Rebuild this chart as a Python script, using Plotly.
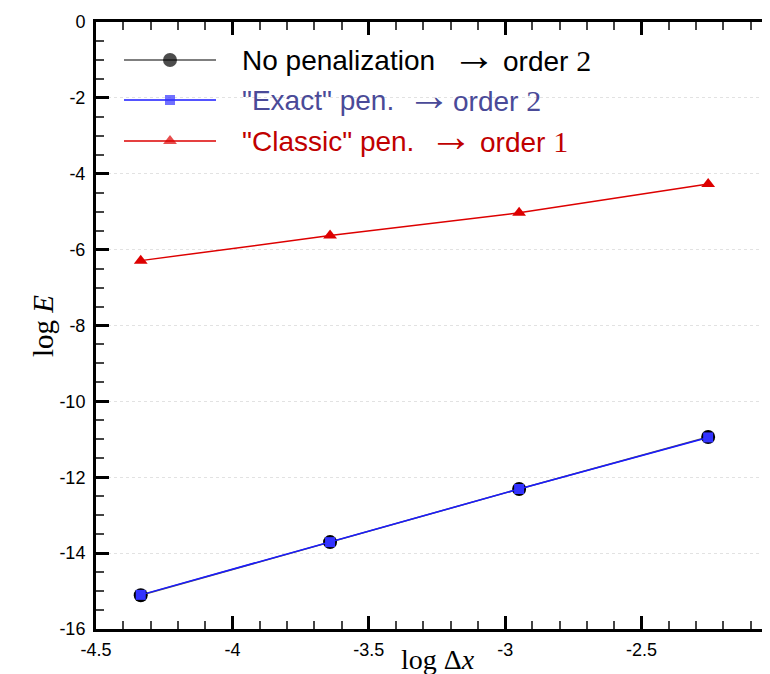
import plotly.graph_objects as go

# ---- data ----
log_dx = [-4.336, -3.642, -2.949, -2.256]
no_pen = [-15.11, -13.71, -12.31, -10.94]
exact_pen = [-15.10, -13.71, -12.31, -10.95]
classic_pen = [-6.29, -5.63, -5.03, -4.27]

x_tickvals = [-4.5, -4.0, -3.5, -3.0, -2.5]
x_ticktext = ["-4.5", "-4", "-3.5", "-3", "-2.5"]
y_tickvals = [0, -2, -4, -6, -8, -10, -12, -14, -16]
y_ticktext = ["0", "-2", "-4", "-6", "-8", "-10", "-12", "-14", "-16"]

legend_names = ["No penalization", '"Exact" pen.', '"Classic" pen.']
legend_orders = ["2", "2", "1"]
legend_text_colors = ["#000000", "#4a4a98", "#c00000"]

BLACK_LINE = "#555555"
BLUE = "#1a1aff"
RED = "#dd0000"

W, H = 770, 674
ML, MR, MT, MB = 88, 0, 14, 53
PW, PH = W - ML - MR, H - MT - MB


def px(xp):
    return (xp - ML) / PW


def py(yp):
    return (H - MB - yp) / PH


fig = go.Figure()

fig.add_trace(go.Scatter(
    x=log_dx, y=no_pen, mode="lines+markers",
    line=dict(color=BLACK_LINE, width=1.5),
    marker=dict(symbol="circle", size=14, color="#000000"),
    showlegend=False, hoverinfo="skip"))
fig.add_trace(go.Scatter(
    x=log_dx, y=exact_pen, mode="lines+markers",
    line=dict(color=BLUE, width=1.5),
    marker=dict(symbol="square", size=10, color="#3333ff"),
    showlegend=False, hoverinfo="skip"))
fig.add_trace(go.Scatter(
    x=log_dx, y=classic_pen, mode="lines+markers",
    line=dict(color=RED, width=1.5),
    marker=dict(symbol="triangle-up", size=12, color=RED),
    showlegend=False, hoverinfo="skip"))

# ---- custom legend (overlay axes in [0,1] = plot area) ----
leg_row_px = [52, 92, 133]
leg_arrow_px = [466, 421, 443]
leg_order_px = [493, 443, 470]
leg_styles = [
    (BLACK_LINE, "circle", 14, "#000000"),
    (BLUE, "square", 10, "#3333ff"),
    (RED, "triangle-up", 12, RED),
]
for ry, (lc, sym, sz, mc) in zip(leg_row_px, leg_styles):
    fig.add_trace(go.Scatter(
        x=[px(116), px(162), px(208)], y=[py(ry)] * 3, mode="lines+markers",
        xaxis="x2", yaxis="y2",
        line=dict(color=lc, width=1.5),
        marker=dict(symbol=sym, size=[0, sz, 0], color=mc, line=dict(width=0)),
        showlegend=False, hoverinfo="skip"))

for ry, name, order, col, ax_, ox in zip(leg_row_px, legend_names, legend_orders,
                                        legend_text_colors, leg_arrow_px, leg_order_px):
    fig.add_annotation(
        x=px(232), y=py(ry), xref="paper", yref="paper", text=name,
        showarrow=False, xanchor="left", yanchor="middle",
        font=dict(family="Liberation Sans", size=28, color=col))
    fig.add_annotation(
        x=px(ax_), y=py(ry), xref="paper", yref="paper", text="→",
        showarrow=False, xanchor="center", yanchor="middle", yshift=6,
        font=dict(family="Liberation Sans", size=44, color=col))
    fig.add_annotation(
        x=px(ox), y=py(ry), xref="paper", yref="paper",
        text='order <span style="font-family:Liberation Serif;font-size:30px">'
             + order + "</span>",
        showarrow=False, xanchor="left", yanchor="middle",
        font=dict(family="Liberation Sans", size=28, color=col))

# ---- axis titles ----
fig.add_annotation(
    x=px(430), y=py(651), xref="paper", yref="paper", text="log Δ<i>x</i>",
    showarrow=False, xanchor="center", yanchor="middle",
    font=dict(family="Liberation Serif", size=28, color="black"))
fig.add_annotation(
    x=px(35), y=py(318), xref="paper", yref="paper", text="log <i>E</i>",
    showarrow=False, xanchor="center", yanchor="middle", textangle=-90,
    font=dict(family="Liberation Serif", size=29, color="black"))

axis_common = dict(
    showline=True, linecolor="black", linewidth=3, mirror="ticks",
    ticks="inside", ticklen=13, tickwidth=3, tickcolor="black",
    tickfont=dict(family="Liberation Sans", size=18, color="black"),
    zeroline=False, automargin=False,
)

fig.update_layout(
    width=W, height=H,
    margin=dict(l=ML, r=MR, t=MT, b=MB),
    paper_bgcolor="white", plot_bgcolor="white",
    showlegend=False,
    xaxis=dict(
        range=[-4.5, -2.0], tickvals=x_tickvals, ticktext=x_ticktext,
        showgrid=False,
        minor=dict(dtick=0.1, tick0=-4.5, ticks="inside", ticklen=8,
                   tickwidth=1.5, tickcolor="#444444", showgrid=False),
        ticklabelstandoff=2,
        **axis_common),
    yaxis=dict(
        range=[-16, 0], tickvals=y_tickvals, ticktext=y_ticktext,
        showgrid=True, gridcolor="#e2e2e2", griddash="dot", gridwidth=1,
        minor=dict(dtick=0.5, tick0=0, ticks="inside", ticklen=8,
                   tickwidth=1.5, tickcolor="#444444", showgrid=False),
        ticklabelstandoff=4,
        **axis_common),
    xaxis2=dict(range=[0, 1], overlaying="x", visible=False, fixedrange=True),
    yaxis2=dict(range=[0, 1], overlaying="y", visible=False, fixedrange=True),
)

fig.write_html("out.html")
